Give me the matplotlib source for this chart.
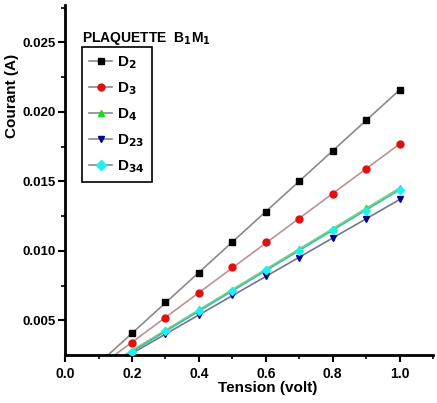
import numpy as np
import matplotlib.pyplot as plt

plt.rcParams['font.family'] = ['Liberation Sans Narrow', 'Liberation Sans', 'DejaVu Sans']
plt.rcParams['font.weight'] = 'bold'

# data
tension = [0.2, 0.3, 0.4, 0.5, 0.6, 0.7, 0.8, 0.9, 1.0]
d2 = [0.0041, 0.0063, 0.0084, 0.0106, 0.0128, 0.0150, 0.0172, 0.0194, 0.0216]
d3 = [0.0034, 0.0052, 0.0070, 0.0088, 0.0106, 0.0123, 0.0141, 0.0159, 0.0177]
d4 = [0.0028, 0.0043, 0.0058, 0.0072, 0.0087, 0.0101, 0.0116, 0.0131, 0.0145]
d23 = [0.0026, 0.0040, 0.0054, 0.0068, 0.0082, 0.0095, 0.0109, 0.0123, 0.0137]
d34 = [0.0027, 0.0042, 0.0057, 0.0071, 0.0086, 0.0100, 0.0115, 0.0129, 0.0144]

series = [
    (d2, 's', 'black', '#8a8a8a', r'D$_2$'),
    (d3, 'o', '#e01010', '#c09090', r'D$_3$'),
    (d4, '^', '#10e010', '#80d080', r'D$_4$'),
    (d23, 'v', '#00008b', '#707890', r'D$_{23}$'),
    (d34, 'D', '#20f0f0', '#40c0a8', r'D$_{34}$'),
]

fig = plt.figure(figsize=(4.37, 4.03), dpi=100)
ax = fig.add_axes([0.149, 0.119, 0.842, 0.869])

x = np.array(tension)
xl = np.linspace(0.0, 1.0, 50)
for (y, m, c, lc, lab) in series:
    p = np.polyfit(x, y, 1)
    ax.plot(xl, np.polyval(p, xl), color=lc, lw=1.2, zorder=2)
    ax.plot(x, y, ls='none', marker=m, color=c, ms=5 if m != 'D' else 4.5, zorder=3)
    ax.plot([], [], color='#8a8a8a', lw=1.2, marker=m, mfc=c, mec=c, ms=5, label=lab)

ax.set_xlim(0.0, 1.1)
ax.set_ylim(0.0025, 0.0277)
ax.set_xticks([0.0, 0.2, 0.4, 0.6, 0.8, 1.0])
ax.set_xticks([0.1, 0.3, 0.5, 0.7, 0.9, 1.1], minor=True)
ax.set_yticks([0.005, 0.010, 0.015, 0.020, 0.025])
ax.set_yticks([0.0075, 0.0125, 0.0175, 0.0225, 0.0275], minor=True)
ax.set_xticklabels(['0.0', '0.2', '0.4', '0.6', '0.8', '1.0'])
ax.set_yticklabels(['0.005', '0.010', '0.015', '0.020', '0.025'])
ax.tick_params(axis='both', which='major', direction='out', length=5, width=1.5, labelsize=10)
ax.tick_params(axis='y', which='major', pad=2, labelsize=9.5)
ax.tick_params(axis='both', which='minor', direction='out', length=3, width=1.2)

for s in ['top', 'right']:
    ax.spines[s].set_visible(False)
for s in ['left', 'bottom']:
    ax.spines[s].set_linewidth(2)

ax.set_xlabel('Tension (volt)', fontsize=11, fontweight='bold')
ax.set_ylabel('Courant (A)', fontsize=11, fontweight='bold')
ax.xaxis.set_label_coords(0.55, -0.075)
ax.yaxis.set_label_coords(-0.125, 0.74)

ax.text(0.045, 0.905, r'PLAQUETTE  B$_1$M$_1$', transform=ax.transAxes,
        fontsize=10, fontweight='bold', va='center', ha='left')

leg = ax.legend(loc='upper left', bbox_to_anchor=(0.045, 0.88), fontsize=11,
                handlelength=1.5, handletextpad=0.3, labelspacing=0.6,
                fancybox=False, framealpha=1, borderpad=0.5, borderaxespad=0)
leg.get_frame().set_edgecolor('black')
leg.get_frame().set_linewidth(1.2)

fig.savefig('out.png', dpi=100)
